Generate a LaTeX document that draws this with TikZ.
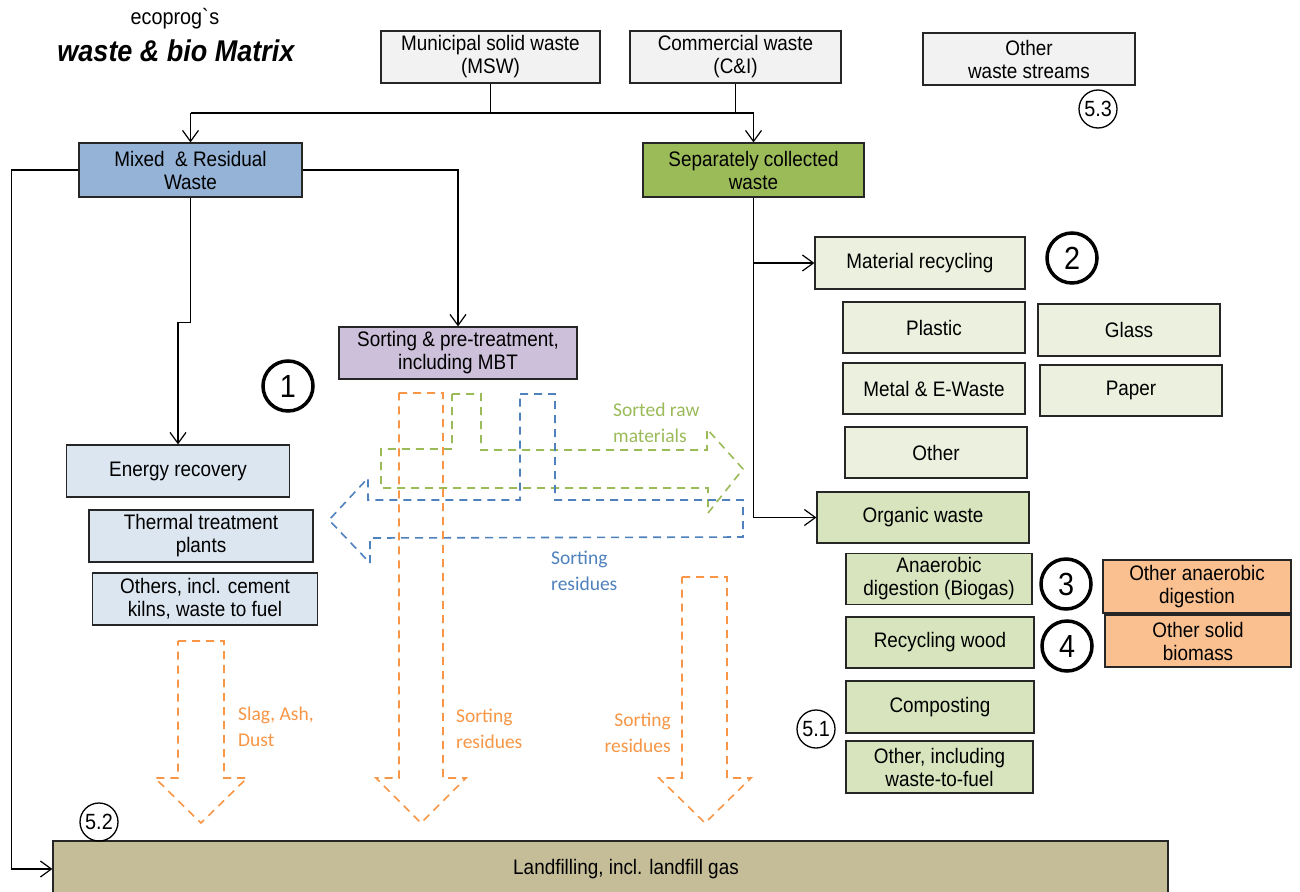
\documentclass[tikz,border=0pt]{standalone}
\usepackage{fontspec}
\setmainfont[FakeStretch=0.9]{Liberation Sans}
\newfontfamily\calibrifont{Carlito}
\usetikzlibrary{arrows.meta}
\definecolor{cgray}{HTML}{F2F2F2}
\definecolor{cmixed}{HTML}{95B3D7}
\definecolor{csep}{HTML}{9BBB59}
\definecolor{csort}{HTML}{CCC0DA}
\definecolor{cenergy}{HTML}{DCE6F1}
\definecolor{cmat}{HTML}{EBF1DE}
\definecolor{corg}{HTML}{D7E4BD}
\definecolor{corange}{HTML}{FAC090}
\definecolor{cland}{HTML}{C4BD97}
\definecolor{dorange}{HTML}{F79646}
\definecolor{dgreen}{HTML}{9BBB59}
\definecolor{dblue}{HTML}{4F81BD}
\newcommand\bodyfont{\fontsize{21}{23}\selectfont}
\newcommand\lblfont{\calibrifont\fontsize{19.5}{25.5}\selectfont}
\begin{document}
\begin{tikzpicture}[x=1pt,y=-1pt,
  box/.style={draw=black!85, line width=1.2pt, inner sep=0pt, align=center, font=\bodyfont},
  wh/.style 2 args={minimum width=#1pt, minimum height=#2pt},
  bigc/.style={circle, draw=black, line width=3.5pt, minimum size=50pt, inner sep=0pt, font=\fontsize{32}{32}\selectfont},
  smallc/.style={circle, draw=black, line width=1.3pt, minimum size=38pt, inner sep=0pt, font=\fontsize{22}{22}\selectfont},
  conn/.style={draw=black, line width=1.2pt},
  arr/.style={conn, -{Straight Barb[length=11pt,width=16pt]}},
  dsh/.style={line width=1.6pt, dash pattern=on 8pt off 6pt},
  lbl/.style={inner sep=0pt, align=left, font=\lblfont}
]
\useasboundingbox (0,0) rectangle (1300,891);
\fill[white] (0,0) rectangle (1300,891);

% title
\node[inner sep=0pt, font=\fontsize{22}{24}\selectfont] (t1) at (175,19) {ecoprog\textasciigrave s};
\node[inner sep=0pt, font=\fontsize{30}{30}\selectfont\bfseries\itshape] (t2) at (176,51) {waste \& bio Matrix};

% boxes
\node[box, fill=cgray, wh={219}{52}] (msw) at (490.5,57) {Municipal solid waste\\(MSW)};
\node[box, fill=cgray, wh={211}{52}] (ci) at (735.5,57) {Commercial waste\\(C\&I)};
\node[box, fill=cgray, wh={212}{52}] (ows) at (1029,59) {Other\\waste streams};
\node[box, fill=cmixed, wh={223}{54}] (mixed) at (190.5,170) {Mixed \ \& Residual\\Waste};
\node[box, fill=csep, wh={221}{54}] (sep) at (753.5,170) {Separately collected\\waste};
\node[box, fill=csort, wh={238}{52}] (sorting) at (458,353) {Sorting \& pre-treatment,\\including MBT};
\node[box, fill=cenergy, wh={223}{52}] (energy) at (178,471) {Energy recovery};
\node[box, fill=cenergy, wh={224}{52}] (thermal) at (201,536) {Thermal treatment\\plants};
\node[box, fill=cenergy, wh={225}{52}] (others) at (205,599) {Others, incl. cement\\kilns, waste to fuel};
\node[box, fill=cmat, wh={210}{52}] (matrec) at (920,263) {Material recycling};
\node[box, fill=cmat, wh={182}{51}] (plastic) at (934,327.5) {Plastic};
\node[box, fill=cmat, wh={182}{52}] (glass) at (1129,330) {Glass};
\node[box, fill=cmat, wh={182}{51}] (metal) at (934,388.5) {Metal \& E-Waste};
\node[box, fill=cmat, wh={182}{51}] (paper) at (1131,390.5) {Paper};
\node[box, fill=cmat, wh={182}{51}] (other) at (936,452.5) {Other};
\node[box, fill=corg, wh={212}{51}] (organic) at (923,517.5) {Organic waste};
\node[box, fill=corg, wh={186}{51}] (anaer) at (939,579) {Anaerobic\\digestion (Biogas)};
\node[box, fill=corange, wh={188}{53}] (otheran) at (1197,586.5) {Other anaerobic\\digestion};
\node[box, fill=corg, wh={188}{51}] (wood) at (940,642.5) {Recycling wood};
\node[box, fill=corange, wh={186}{52}] (solid) at (1198,641) {Other solid\\biomass};
\node[box, fill=corg, wh={188}{52}] (compost) at (940,707) {Composting};
\node[box, fill=corg, wh={187}{52}] (otherfuel) at (939.5,767) {Other, including\\waste-to-fuel};
\node[box, fill=cland, wh={1115}{56}] (landfill) at (610.5,869) {\hspace*{31pt}Landfilling, incl. landfill gas};

% circles
\node[bigc] (c1) at (288,386) {1};
\node[bigc] (c2) at (1072,258) {2};
\node[bigc] (c3) at (1066,584) {3};
\node[bigc] (c4) at (1067,646) {4};
\node[smallc] (c51) at (816,729) {5.1};
\node[smallc] (c52) at (99,822) {5.2};
\node[smallc] (c53) at (1098,109) {5.3};

% connectors
\coordinate (busL) at (190.5,113);
\coordinate (busR) at (753.5,113);
\draw[conn] (msw.south) -- (msw.south |- busL);
\draw[conn] (ci.south) -- (ci.south |- busL);
\draw[conn] (busL) -- (busR);
\draw[arr] (busL) -- (mixed.north);
\draw[arr] (busR) -- (sep.north);
\draw[arr] (mixed.west) -- ++(-67,0) |- (landfill.west);
\draw[arr] (mixed.east) -| (sorting.north);
\draw[arr] (mixed.south) -- ++(0,125) -| (energy.north);
\draw[arr] (sep.south) |- (matrec.west);
\draw[arr] (sep.south) |- (organic.west);

% dashed block arrows
\draw[dsh, dgreen] (452,394) -- (481,394) -- (481,450) -- (707,450) -- (707,429) -- (743,469) -- (708,513) -- (708,488) -- (381,488) -- (381,449) -- (452,449) -- cycle;
\draw[dsh, dblue] (520,394) -- (555,394) -- (555,500) -- (743,500) -- (743,537) -- (370,538) -- (370,563) -- (329,520) -- (368,478) -- (368,500) -- (520,500) -- cycle;
\draw[dsh, dorange] (178,641) -- (224,641) -- (224,778) -- (247,778) -- (201,823) -- (155,778) -- (178,778) -- cycle;
\draw[dsh, dorange] (399,393) -- (443,393) -- (443,778) -- (466,778) -- (421,823) -- (376,778) -- (399,778) -- cycle;
\draw[dsh, dorange] (682,577) -- (727,577) -- (727,778) -- (751,778) -- (705,823) -- (659,778) -- (682,778) -- cycle;

% labels
\node[lbl, dgreen, anchor=west] (lg) at (613,423) {Sorted raw\\materials};
\node[lbl, dblue, anchor=west] (lb) at (551,571) {Sorting\\residues};
\node[lbl, dorange, anchor=west] (ls) at (238,727) {Slag, Ash,\\Dust};
\node[lbl, dorange, anchor=west] (lm) at (456,729) {Sorting\\residues};
\node[lbl, dorange, anchor=east, align=right] (lr) at (671,733) {Sorting\\residues};
\end{tikzpicture}
\end{document}
